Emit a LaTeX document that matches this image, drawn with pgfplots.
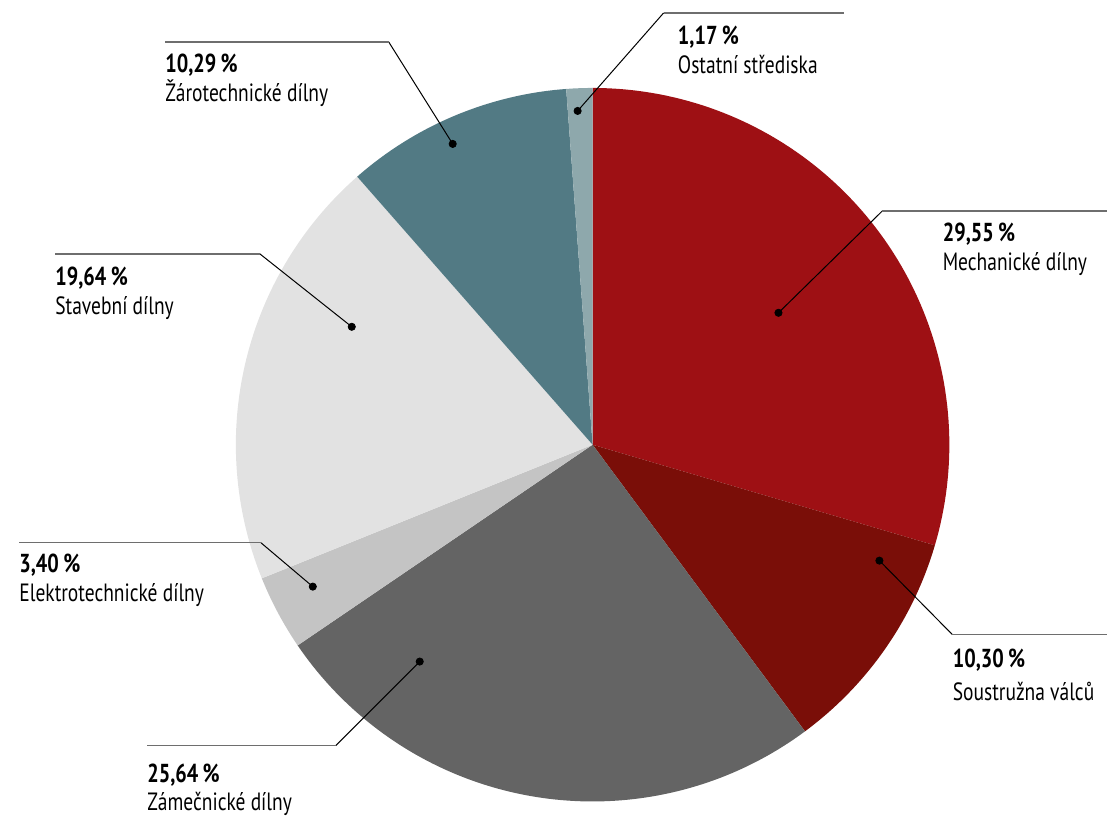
\documentclass[border=0pt]{standalone}
\usepackage{pgfplots}
\pgfplotsset{compat=1.18}
\usepackage{fontspec}
\setmainfont[FakeStretch=0.78]{PT Sans}
\definecolor{cMech}{HTML}{9E1014}
\definecolor{cSous}{HTML}{7A0E08}
\definecolor{cZam}{HTML}{646464}
\definecolor{cElek}{HTML}{C4C4C4}
\definecolor{cStav}{HTML}{E2E2E2}
\definecolor{cZar}{HTML}{527A84}
\definecolor{cOst}{HTML}{8EA8AC}
\definecolor{cHline}{HTML}{6E6E6E}
% shares (%): Mechanicke 29.55, Soustruzna 10.30, Zamecnicke 25.64,
% Elektrotechnicke 3.40, Stavebni 19.64, Zarotechnicke 10.29, Ostatni 1.17
% slices run clockwise from 12 o'clock; 1 % = 3.6 degrees
\newcommand{\numfont}{\fontsize{13}{15}\selectfont\bfseries}
\newcommand{\namefont}{\fontsize{12.5}{14}\selectfont}
\begin{document}
\begin{tikzpicture}
\begin{axis}[scale only axis, width=554pt, height=408pt,
  xmin=0, xmax=1108, ymin=0, ymax=816, y dir=reverse,
  hide axis, clip=false]
\path (axis cs:0,0) rectangle (axis cs:1108,816);
% wedges (centre 593,445; radius 357)
\addplot[fill=cMech, draw=none, domain=-16.38:90, samples=90, variable=\t]
  ({593+357*cos(t)},{445-357*sin(t)}) -- (axis cs:593,445) -- cycle;
\addplot[fill=cSous, draw=none, domain=-53.46:-16.38, samples=40, variable=\t]
  ({593+357*cos(t)},{445-357*sin(t)}) -- (axis cs:593,445) -- cycle;
\addplot[fill=cZam, draw=none, domain=-145.764:-53.46, samples=90, variable=\t]
  ({593+357*cos(t)},{445-357*sin(t)}) -- (axis cs:593,445) -- cycle;
\addplot[fill=cElek, draw=none, domain=-158.004:-145.764, samples=15, variable=\t]
  ({593+357*cos(t)},{445-357*sin(t)}) -- (axis cs:593,445) -- cycle;
\addplot[fill=cStav, draw=none, domain=-228.708:-158.004, samples=70, variable=\t]
  ({593+357*cos(t)},{445-357*sin(t)}) -- (axis cs:593,445) -- cycle;
\addplot[fill=cZar, draw=none, domain=-265.752:-228.708, samples=40, variable=\t]
  ({593+357*cos(t)},{445-357*sin(t)}) -- (axis cs:593,445) -- cycle;
\addplot[fill=cOst, draw=none, domain=-270:-265.752, samples=8, variable=\t]
  ({593+357*cos(t)},{445-357*sin(t)}) -- (axis cs:593,445) -- cycle;
% leader lines
\pgfplotsset{diag/.style={black, line width=0.5pt, mark=none},
             hl/.style={cHline, line width=0.75pt, mark=none}}
\addplot[diag] coordinates {(779,313) (883,211)};
\addplot[hl]   coordinates {(883,211) (1108,211)};
\addplot[diag] coordinates {(880,561) (953,635)};
\addplot[hl]   coordinates {(953,635) (1108,635)};
\addplot[diag] coordinates {(420,662) (336,746)};
\addplot[hl]   coordinates {(336,746) (147,746)};
\addplot[diag] coordinates {(313,587) (261,543)};
\addplot[hl]   coordinates {(261,543) (19,543)};
\addplot[diag] coordinates {(352,327) (260,254)};
\addplot[hl]   coordinates {(260,254) (55,254)};
\addplot[diag] coordinates {(453,144) (389,42)};
\addplot[hl]   coordinates {(389,42) (165,42)};
\addplot[diag] coordinates {(578,111) (664,13)};
\addplot[hl]   coordinates {(664,13) (845,13)};
% dots
\addplot[only marks, mark=*, mark size=1.8pt, black] coordinates {
  (779,313) (880,561) (420,662) (313,587) (352,327) (453,144) (578,111)};
% labels
\node[anchor=base west, inner sep=0pt, font=\numfont] at (axis cs:943,242) {29,55\,\%};
\node[anchor=base west, inner sep=0pt, font=\namefont] at (axis cs:943,271) {Mechanické dílny};
\node[anchor=base west, inner sep=0pt, font=\numfont] at (axis cs:953,668) {10,30\,\%};
\node[anchor=base west, inner sep=0pt, font=\namefont] at (axis cs:953,701) {Soustružna válců};
\node[anchor=base west, inner sep=0pt, font=\numfont] at (axis cs:147,783) {25,64\,\%};
\node[anchor=base west, inner sep=0pt, font=\namefont] at (axis cs:147,811) {Zámečnické dílny};
\node[anchor=base west, inner sep=0pt, font=\numfont] at (axis cs:19,573) {3,40\,\%};
\node[anchor=base west, inner sep=0pt, font=\namefont] at (axis cs:19,602) {Elektrotechnické dílny};
\node[anchor=base west, inner sep=0pt, font=\numfont] at (axis cs:55,286) {19,64\,\%};
\node[anchor=base west, inner sep=0pt, font=\namefont] at (axis cs:55,315) {Stavební dílny};
\node[anchor=base west, inner sep=0pt, font=\numfont] at (axis cs:165,73) {10,29\,\%};
\node[anchor=base west, inner sep=0pt, font=\namefont] at (axis cs:165,102) {Žárotechnické dílny};
\node[anchor=base west, inner sep=0pt, font=\numfont] at (axis cs:678,45) {1,17\,\%};
\node[anchor=base west, inner sep=0pt, font=\namefont] at (axis cs:678,74) {Ostatní střediska};
\end{axis}
\end{tikzpicture}
\end{document}
